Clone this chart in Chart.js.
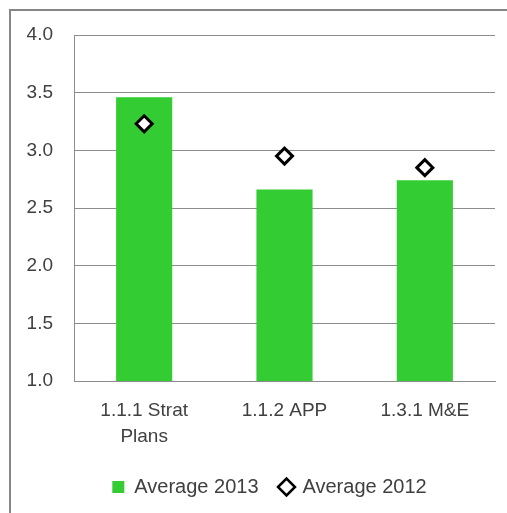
<!DOCTYPE html>
<html>
<head>
<meta charset="utf-8">
<style>
  html, body { margin: 0; padding: 0; background: #ffffff; overflow: hidden; }
  #wrap { width: 507px; height: 513px; position: relative; }
</style>
<script src="https://cdn.jsdelivr.net/npm/chart.js@4/dist/chart.umd.min.js"></script>
</head>
<body>
<div id="wrap"><canvas id="c" width="507" height="513"></canvas></div>
<script>
// Score categories and yearly averages
const categories = [['1.1.1 Strat', 'Plans'], '1.1.2 APP', '1.3.1 M&E'];
const average2013 = [3.46, 2.66, 2.74];
const average2012 = [3.23, 2.95, 2.85];
const seriesNames = ['Average 2013', 'Average 2012'];
const yTicks = [1.0, 1.5, 2.0, 2.5, 3.0, 3.5, 4.0];

const GREEN = '#33cc33';
const TEXT = '#404040';
const GRID = '#8c8c8c';
const TICK_FONT = { family: '"Liberation Sans", Arial, sans-serif', size: 19, lineHeight: 1.4 };
const LEGEND_FONT = { family: '"Liberation Sans", Arial, sans-serif', size: 20 };

// Grey frame around the whole figure, and a small rightward nudge of the legend row
const framePlugin = {
  id: 'frame',
  afterLayout(chart) {
    const lg = chart.legend;
    if (lg) { lg.left += 17; lg.right += 17; }
  },
  beforeDraw(chart) {
    const ctx = chart.ctx;
    ctx.save();
    ctx.fillStyle = '#ffffff';
    ctx.fillRect(0, 0, chart.width, chart.height);
    ctx.strokeStyle = '#868686';
    ctx.lineWidth = 2;
    ctx.strokeRect(10, 10, chart.width + 20, chart.height + 20);
    ctx.restore();
  }
};

new Chart(document.getElementById('c'), {
  data: {
    labels: categories,
    datasets: [
      {
        type: 'bar',
        label: seriesNames[0],
        data: average2013,
        backgroundColor: GREEN,
        borderWidth: 0,
        barPercentage: 0.4,
        categoryPercentage: 1.0,
        pointStyle: 'rect',
        order: 2
      },
      {
        type: 'line',
        label: seriesNames[1],
        data: average2012,
        showLine: false,
        pointStyle: 'rectRot',
        pointRadius: 8,
        pointHoverRadius: 8,
        pointBackgroundColor: '#ffffff',
        pointBorderColor: '#000000',
        pointBorderWidth: 3,
        backgroundColor: '#ffffff',
        borderColor: '#000000',
        order: 1
      }
    ]
  },
  options: {
    responsive: false,
    animation: false,
    devicePixelRatio: 1,
    layout: { padding: { left: 10, right: 12, top: 35, bottom: 6 } },
    plugins: {
      tooltip: { enabled: false },
      legend: {
        position: 'bottom',
        labels: {
          color: TEXT,
          font: LEGEND_FONT,
          usePointStyle: true,
          boxWidth: 12,
          boxHeight: 12,
          padding: 22,
          generateLabels(chart) {
            const items = Chart.defaults.plugins.legend.labels.generateLabels(chart);
            items.sort((a, b) => a.datasetIndex - b.datasetIndex);
            items[0].pointStyle = 'rect';
            items[0].fillStyle = GREEN;
            items[0].strokeStyle = GREEN;
            items[0].lineWidth = 0;
            items[1].pointStyle = 'rectRot';
            items[1].fillStyle = '#ffffff';
            items[1].strokeStyle = '#000000';
            items[1].lineWidth = 2.5;
            return items;
          }
        }
      }
    },
    scales: {
      x: {
        offset: true,
        grid: { display: false, drawTicks: false },
        border: { display: true, color: GRID, width: 1 },
        ticks: { color: TEXT, font: TICK_FONT, padding: 16, maxRotation: 0, autoSkip: false },
        afterFit(scale) { scale.height = 74; }
      },
      y: {
        min: 1.0,
        max: 4.0,
        afterBuildTicks(scale) { scale.ticks = yTicks.map(v => ({ value: v })); },
        grid: { color: GRID, lineWidth: 1, drawTicks: false },
        border: { display: true, color: GRID, width: 1 },
        ticks: {
          color: TEXT,
          font: TICK_FONT,
          padding: 21,
          callback: v => Number(v).toFixed(1)
        },
        afterFit(scale) { scale.width = 64; }
      }
    }
  },
  plugins: [framePlugin]
});
</script>
</body>
</html>
